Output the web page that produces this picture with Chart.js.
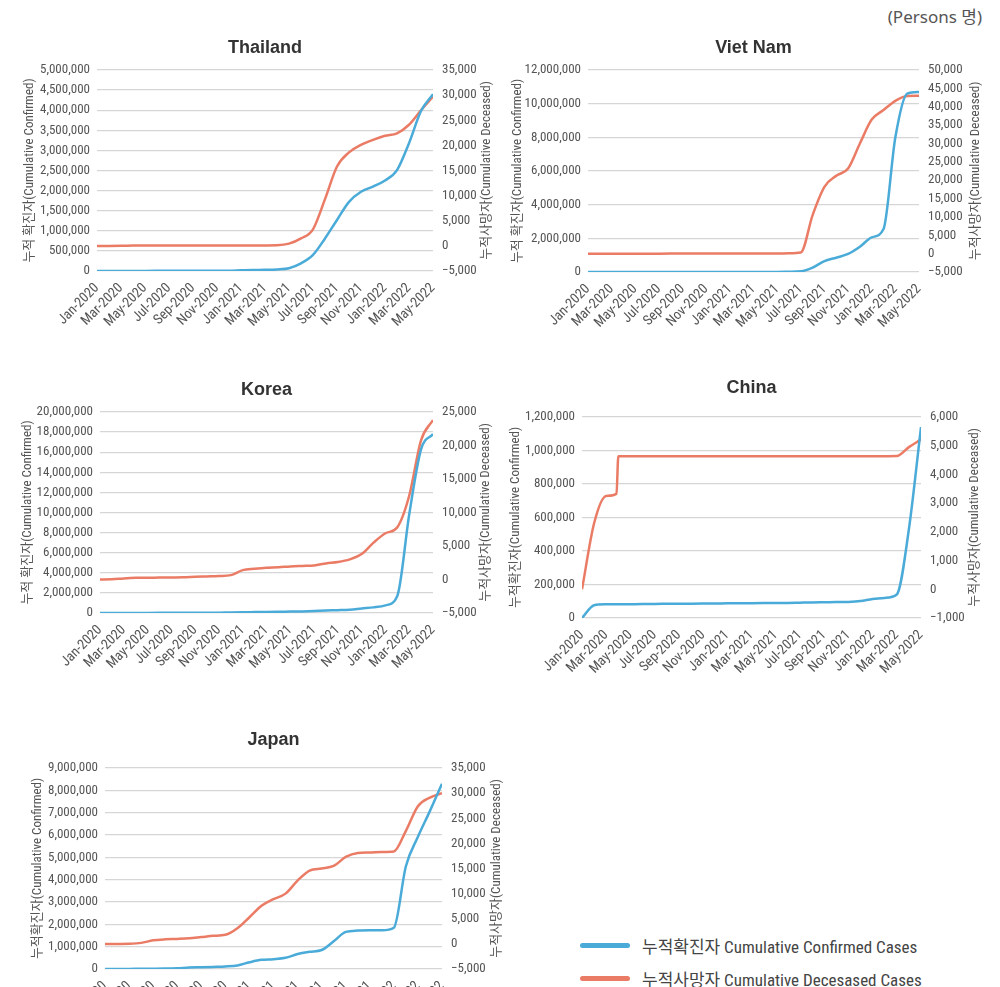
<!DOCTYPE html>
<html>
<head>
<meta charset="utf-8">
<script src="https://cdn.jsdelivr.net/npm/chart.js@4/dist/chart.umd.min.js"></script>
<style>
  html, body { margin: 0; padding: 0; background: #fff; overflow: hidden; }
  body { width: 1000px; height: 987px; position: relative;
         font-family: 'Liberation Sans Narrow', 'Roboto Condensed', 'Noto Sans CJK KR', sans-serif; color: #444; }
  canvas { position: absolute; display: block; }
  #unit { position: absolute; right: 18px; top: 3px; font-size: 17px; color: #555;
          font-family: 'Noto Sans', 'Noto Sans CJK KR', sans-serif; }
  #legend { position: absolute; left: 580px; top: 929px; }
  .item { display: flex; align-items: center; height: 33px; }
  .swatch { width: 50px; height: 5px; border-radius: 3px; margin-right: 12px; }
  .label { font-size: 17px; color: #444; }
</style>
</head>
<body>
<div id="unit">(Persons 명)</div>
<canvas id="c-th" width="500" height="310" style="left:0;top:30px"></canvas>
<canvas id="c-vn" width="500" height="310" style="left:500px;top:30px"></canvas>
<canvas id="c-kr" width="500" height="310" style="left:0;top:370px"></canvas>
<canvas id="c-cn" width="500" height="310" style="left:500px;top:370px"></canvas>
<canvas id="c-jp" width="520" height="320" style="left:0;top:720px"></canvas>
<div id="legend">
  <div class="item"><div class="swatch" style="background:#4aabd9"></div><span class="label">누적확진자 Cumulative Confirmed Cases</span></div>
  <div class="item"><div class="swatch" style="background:#ea7c66"></div><span class="label">누적사망자 Cumulative Decesased Cases</span></div>
</div>
<script>
// monthly points, Jan-2020 .. May-2022 (x = month index)
const months = ['Jan-2020', 'Feb-2020', 'Mar-2020', 'Apr-2020', 'May-2020', 'Jun-2020',
  'Jul-2020', 'Aug-2020', 'Sep-2020', 'Oct-2020', 'Nov-2020', 'Dec-2020',
  'Jan-2021', 'Feb-2021', 'Mar-2021', 'Apr-2021', 'May-2021', 'Jun-2021',
  'Jul-2021', 'Aug-2021', 'Sep-2021', 'Oct-2021', 'Nov-2021', 'Dec-2021',
  'Jan-2022', 'Feb-2022', 'Mar-2022', 'Apr-2022', 'May-2022'];

const thConfirmed = [0, 40, 1600, 2950, 3080, 3170, 3300, 3400, 3500, 3700, 3900, 6100, 16000, 25000, 28500,
  40000, 70000, 190000, 400000, 810000, 1270000, 1720000, 1970000, 2100000, 2250000, 2510000, 3180000, 3980000, 4400000];
const thDeceased = [0, 0, 1, 50, 57, 58, 58, 58, 59, 59, 60, 60, 75, 85, 94,
  130, 450, 1500, 3300, 9300, 15800, 18600, 20100, 21100, 21900, 22400, 24100, 27000, 29700];

const vnConfirmed = [0, 16, 200, 270, 330, 360, 430, 1040, 1080, 1180, 1340, 1460, 1550, 2430, 2600,
  2900, 6000, 16000, 40000, 260000, 650000, 850000, 1070000, 1500000, 2060000, 2550000, 8000000, 10600000, 10700000];
const vnDeceased = [0, 0, 0, 0, 0, 0, 0, 10, 35, 35, 35, 35, 35, 35, 35,
  35, 45, 80, 300, 10500, 18200, 21200, 23200, 30000, 36500, 39100, 41600, 42900, 43000];

const krConfirmed = [11, 3150, 9800, 10770, 11470, 12800, 14300, 20000, 23800, 26500, 35000, 61000, 78000, 90000, 102000,
  120000, 140000, 160000, 200000, 250000, 280000, 330000, 450000, 560000, 760000, 1700000, 9800000, 16300000, 17800000];
const krDeceased = [0, 20, 160, 250, 270, 280, 300, 320, 400, 460, 520, 650, 1400, 1600, 1750,
  1820, 1950, 2030, 2100, 2400, 2600, 3000, 3800, 5500, 6900, 7800, 12500, 20800, 23800];

const cnConfirmed = [0, 76000, 81500, 82000, 82500, 83000, 84000, 84500, 85000, 85500, 86000, 86500, 87500, 88000, 88500,
  89000, 89500, 90000, 91500, 93000, 94000, 95000, 96000, 101000, 114000, 120000, 140000, 530000, 1140000];
// China deaths have an extra sample just before the mid-April 2020 revision step
const cnDeceasedAt = [0, 1, 2, 2.85, 3, 4, 5, 6, 7, 8, 9, 10, 11, 12, 13, 14,
  15, 16, 17, 18, 19, 20, 21, 22, 23, 24, 25, 26, 27, 28];
const cnDeceased = [0, 2300, 3250, 3330, 4632, 4634, 4634, 4634, 4634, 4634, 4634, 4634, 4634, 4635, 4636, 4636,
  4636, 4636, 4636, 4636, 4636, 4636, 4636, 4636, 4636, 4636, 4636, 4638, 4950, 5220];

const jpConfirmed = [0, 200, 2000, 14000, 16500, 18500, 33000, 67000, 78000, 95000, 115000, 160000, 300000, 410000, 440000,
  500000, 670000, 770000, 850000, 1240000, 1660000, 1720000, 1730000, 1735000, 1850000, 4600000, 5920000, 7080000, 8300000];
const jpDeceased = [0, 0, 30, 200, 700, 900, 980, 1100, 1350, 1600, 1800, 3100, 5300, 7600, 8900,
  10000, 12600, 14600, 15000, 15500, 17300, 18100, 18200, 18300, 18400, 22500, 27400, 29100, 30000];

// axis ranges [min, max, step]
const thLeft = [0, 5000000, 500000], thRight = [-5000, 35000, 5000];
const vnLeft = [0, 12000000, 2000000], vnRight = [-5000, 50000, 5000];
const krLeft = [0, 20000000, 2000000], krRight = [-5000, 25000, 5000];
const cnLeft = [0, 1200000, 200000], cnRight = [-1000, 6000, 1000];
const jpLeft = [0, 9000000, 1000000], jpRight = [-5000, 35000, 5000];

const FONT = "'Liberation Sans Narrow', 'Roboto Condensed', 'Noto Sans CJK KR', sans-serif";
const TITLE_FONT = "'Liberation Sans', Arial, 'Noto Sans CJK KR', sans-serif";
const TICK_COLOR = '#555';
const BLUE = '#4aabd9', ORANGE = '#ea7c66';

Chart.defaults.font.family = FONT;

const fmt = v => (v < 0 ? '\u2212' : '') + Math.abs(v).toLocaleString('en-US');
const toPoints = (values, at) => values.map((v, i) => ({ x: at ? at[i] : i, y: v }));

// right axis title reads bottom-to-top like the left one
const rightTitle = {
  id: 'rightTitle',
  afterDraw(chart, args, opts) {
    const { ctx, chartArea } = chart;
    ctx.save();
    ctx.translate(opts.x, (chartArea.top + chartArea.bottom) / 2);
    ctx.rotate(-Math.PI / 2);
    ctx.font = '13px ' + FONT;
    ctx.fillStyle = TICK_COLOR;
    ctx.textAlign = 'center';
    ctx.textBaseline = 'middle';
    ctx.fillText(opts.text, 0, 0);
    ctx.restore();
  }
};

function drawCountry(c) {
  const [bx, by, bw, bh] = c.box;
  const [pl, pt, pr, pb] = c.plot;
  const titleCenter = c.titleY - by;
  new Chart(document.getElementById(c.id), {
    type: 'line',
    data: {
      datasets: [{
        data: toPoints(c.confirmed), yAxisID: 'y', borderColor: BLUE, borderWidth: 2.5,
        pointRadius: 0, cubicInterpolationMode: 'monotone', fill: false
      }, {
        data: toPoints(c.deceased, c.deceasedAt), yAxisID: 'y1', borderColor: ORANGE, borderWidth: 2.5,
        pointRadius: 0, cubicInterpolationMode: 'monotone', fill: false
      }]
    },
    plugins: [rightTitle],
    options: {
      responsive: false,
      animation: false,
      layout: { padding: 0 },
      plugins: {
        legend: { display: false },
        tooltip: { enabled: false },
        title: {
          display: true, text: c.title, fullSize: false, color: '#333',
          font: { family: TITLE_FONT, size: 18, weight: 'bold', lineHeight: 1.2 },
          padding: { top: titleCenter - 10.8, bottom: (pt - by) - titleCenter - 10.8 }
        },
        rightTitle: { text: '누적사망자(Cumulative Deceased)', x: c.rightTitleX - bx }
      },
      scales: {
        x: {
          type: 'linear', min: 0, max: months.length - 1,
          grid: { display: false, drawTicks: false },
          border: { display: false },
          ticks: {
            stepSize: 2, autoSkip: false, minRotation: 45, maxRotation: 45, padding: 9,
            color: TICK_COLOR, font: { size: 14 },
            callback: v => months[v]
          },
          afterFit: s => { s.height = by + bh - pb; }
        },
        y: {
          position: 'left', min: c.left[0], max: c.left[1],
          grid: { color: '#d6d6d6', lineWidth: 1.2, drawTicks: false },
          border: { display: false },
          ticks: { stepSize: c.left[2], autoSkip: false, padding: 7, color: TICK_COLOR, font: { size: 13 }, callback: fmt },
          title: {
            display: true, text: c.leftTitle, color: TICK_COLOR,
            font: { size: 13, lineHeight: 1.2 },
            padding: { top: c.leftTitleX - bx - 7.8, bottom: 0 }
          },
          afterFit: s => { s.width = pl - bx; }
        },
        y1: {
          position: 'right', min: c.right[0], max: c.right[1],
          grid: { display: false, drawTicks: false },
          border: { display: false },
          ticks: { stepSize: c.right[2], autoSkip: false, padding: 9, color: TICK_COLOR, font: { size: 13 }, callback: fmt },
          afterFit: s => { s.width = bx + bw - pr; }
        }
      }
    }
  });
}

drawCountry({ id: 'c-th', title: 'Thailand', confirmed: thConfirmed, deceased: thDeceased,
  left: thLeft, right: thRight, leftTitle: '누적 확진자(Cumulative Confirmed)',
  box: [0, 30, 500, 310], plot: [97, 70, 433, 271], titleY: 48, leftTitleX: 30, rightTitleX: 487 });
drawCountry({ id: 'c-vn', title: 'Viet Nam', confirmed: vnConfirmed, deceased: vnDeceased,
  left: vnLeft, right: vnRight, leftTitle: '누적 확진자(Cumulative Confirmed)',
  box: [500, 30, 500, 310], plot: [588, 70, 919, 272], titleY: 48, leftTitleX: 518, rightTitleX: 976 });
drawCountry({ id: 'c-kr', title: 'Korea', confirmed: krConfirmed, deceased: krDeceased,
  left: krLeft, right: krRight, leftTitle: '누적 확진자(Cumulative Confirmed)',
  box: [0, 370, 500, 310], plot: [100, 412, 433, 613], titleY: 390, leftTitleX: 28, rightTitleX: 486 });
drawCountry({ id: 'c-cn', title: 'China', confirmed: cnConfirmed, deceased: cnDeceased, deceasedAt: cnDeceasedAt,
  left: cnLeft, right: cnRight, leftTitle: '누적확진자(Cumulative Confirmed)',
  box: [500, 370, 500, 310], plot: [582, 417, 921, 618], titleY: 388, leftTitleX: 516, rightTitleX: 975 });
drawCountry({ id: 'c-jp', title: 'Japan', confirmed: jpConfirmed, deceased: jpDeceased,
  left: jpLeft, right: jpRight, leftTitle: '누적확진자(Cumulative Confirmed)',
  box: [0, 720, 520, 320], plot: [105, 768, 442, 969], titleY: 740, leftTitleX: 38, rightTitleX: 497 });
</script>
</body>
</html>
